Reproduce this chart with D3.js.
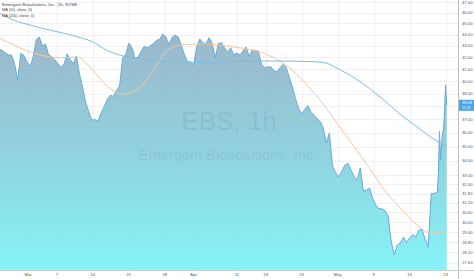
<!DOCTYPE html>
<html>
<head>
<meta charset="utf-8">
<script src="https://cdn.jsdelivr.net/npm/d3@7"></script>
<style>
html, body { margin: 0; padding: 0; background: #fff; overflow: hidden; }
svg { display: block; font-family: "Liberation Sans", Arial, sans-serif; }
</style>
</head>
<body>
<svg id="chart"></svg>
<script>
// EBS hourly closes, Feb 23 - May 23 2022, one value every 3 bars
const closes = [
    42.69, 42.60, 42.37, 42.20, 42.20, 41.42, 40.10, 42.33, 42.16, 41.63,
    41.20, 42.03, 43.53, 43.77, 42.98, 43.16, 42.20, 42.05, 41.80, 41.48,
    41.13, 41.42, 42.29, 41.80, 41.48, 42.11, 40.60, 39.53, 38.33, 37.59,
    36.95, 36.98, 36.88, 37.48, 37.97, 38.53, 38.87, 38.77, 39.24, 39.61,
    41.93, 42.24, 43.24, 42.85, 41.93, 42.00, 42.52, 42.95, 42.83, 43.01,
    43.21, 43.48, 43.57, 44.05, 43.77, 43.12, 43.73, 43.95, 43.77, 43.09,
    42.23, 41.62, 41.60, 41.34, 42.89, 43.60, 43.27, 43.16, 43.71, 43.24,
    41.94, 43.20, 43.27, 42.83, 42.41, 42.82, 42.20, 42.37, 42.20, 42.54,
    42.89, 42.07, 42.61, 42.60, 42.50, 41.42, 41.14, 41.17, 41.20, 40.89,
    40.76, 41.13, 41.40, 41.13, 40.32, 39.55, 38.61, 37.87, 37.41, 37.76,
    38.06, 37.58, 37.33, 37.06, 36.85, 36.35, 35.25, 35.98, 33.64, 33.21,
    32.89, 33.27, 33.69, 33.83, 33.36, 32.93, 32.71, 33.50, 31.97, 32.03,
    32.16, 31.49, 31.06, 30.83, 30.83, 30.72, 30.38, 28.87, 28.06, 28.64,
    28.75, 29.10, 28.79, 29.05, 29.25, 29.10, 29.52, 29.55, 28.99, 28.51,
    31.81, 31.81, 31.91
];
const closeStep = 3;

// hourly closes from May 20 open
const tailStart = "2022-05-20";
const tailCloses = [33.3, 36.1, 34.1, 35.2, 36.0, 36.3, 37.9, 39.7, 38.08];

// moving averages, one value every 15 bars
const maStep = 15;
const ma50 = [
    43.69, 43.03, 42.46, 42.11, 41.96, 42.03, 41.00, 39.61, 38.97, 39.37,
    40.92, 42.72, 43.10, 43.16, 43.11, 42.93, 42.73, 42.44, 41.81, 40.90,
    39.61, 38.18, 36.54, 35.01, 33.50, 31.97, 30.88, 29.88, 29.34, 29.46
];
const ma200 = [
    45.97, 45.27, 44.86, 44.49, 44.17, 43.82, 43.38, 42.59, 42.13, 41.90,
    41.75, 41.68, 41.60, 41.54, 41.57, 41.64, 41.67, 41.68, 41.68, 41.67,
    41.64, 41.57, 41.00, 40.30, 39.41, 38.41, 37.37, 36.51, 35.66, 34.98
];

const priceTicks = [27.6, 28.2, 28.8, 29.4, 30.0, 30.6, 31.2, 31.8, 32.4, 33.0,
    34, 35, 36, 37, 38, 39, 40, 41, 42, 43, 44, 45, 46, 47];
const tickDates = ["2022-03-01", "2022-03-07", "2022-03-14", "2022-03-21", "2022-03-28",
    "2022-04-01", "2022-04-11", "2022-04-18", "2022-04-25", "2022-05-02",
    "2022-05-09", "2022-05-16", "2022-05-23"];
const tickLabels = ["Mar", "7", "14", "21", "28", "Apr", "11", "18", "25", "May", "9", "16", "23"];
const holidays = ["2022-04-15"];
const lastPrice = 38.08;

const legendLines = ["Emergent Biosolutions, Inc., 1h, NYSE", "MA (50, close, 0)", "MA (200, close, 0)"];

function tradingDays(start, end) {
    const out = [];
    const d = new Date(start + "T12:00:00Z");
    const stop = new Date(end + "T12:00:00Z");
    while (d <= stop) {
        const s = d.toISOString().slice(0, 10);
        const wd = d.getUTCDay();
        if (wd !== 0 && wd !== 6 && !holidays.includes(s)) out.push(s);
        d.setUTCDate(d.getUTCDate() + 1);
    }
    return out;
}

const days = tradingDays("2022-02-23", "2022-05-23");
const barsPerDay = 7;
const barOf = s => days.indexOf(s) * barsPerDay;

const width = 474, height = 279;
const plotW = 458, plotH = 270;

const x = d3.scaleLinear().domain([0, 446]).range([-0.8, 458]);
const y = d3.scaleLog().domain([27.21, 47.21]).range([plotH, 0]);

const points = closes.map((v, i) => ({ bar: i * closeStep, v }))
    .concat(tailCloses.map((v, k) => ({ bar: barOf(tailStart) + k, v })));

const svg = d3.select("#chart").attr("width", width).attr("height", height);

const defs = svg.append("defs");
defs.append("clipPath").attr("id", "plot-clip")
    .append("rect").attr("width", plotW).attr("height", plotH);

const grad = defs.append("linearGradient")
    .attr("id", "area-grad")
    .attr("gradientUnits", "userSpaceOnUse")
    .attr("x1", 0).attr("x2", 0).attr("y1", 30).attr("y2", plotH);
grad.append("stop").attr("offset", "0%").attr("stop-color", "#97b3c7");
grad.append("stop").attr("offset", "50%").attr("stop-color", "#8bcfdc");
grad.append("stop").attr("offset", "100%").attr("stop-color", "#7ff3f7");

// grid
const grid = svg.append("g");
grid.selectAll("line.h")
    .data(priceTicks)
    .enter().append("line")
    .attr("x1", 0).attr("x2", plotW)
    .attr("y1", d => Math.round(y(d)) + 0.5).attr("y2", d => Math.round(y(d)) + 0.5)
    .attr("stroke", "#eff1f4");
grid.selectAll("line.v")
    .data(tickDates)
    .enter().append("line")
    .attr("x1", d => Math.round(x(barOf(d))) + 0.5).attr("x2", d => Math.round(x(barOf(d))) + 0.5)
    .attr("y1", 0).attr("y2", plotH)
    .attr("stroke", "#eff1f4");

const plot = svg.append("g").attr("clip-path", "url(#plot-clip)");

plot.append("path")
    .datum(points)
    .attr("d", d3.area().x(d => x(d.bar)).y0(plotH).y1(d => y(d.v)))
    .attr("fill", "url(#area-grad)")
    .attr("fill-opacity", 0.95);

// watermark, over the area like the original
const wm = svg.append("g").attr("fill", "#6c7d8c").attr("fill-opacity", 0.16)
    .attr("text-anchor", "middle");
wm.append("text").attr("x", 229).attr("y", 130)
    .style("font-size", "26px").text("EBS, 1h");
wm.append("text").attr("x", 228).attr("y", 160)
    .style("font-size", "14.7px").text("Emergent Biosolutions, Inc.");

plot.append("path")
    .datum(points)
    .attr("d", d3.line().x(d => x(d.bar)).y(d => y(d.v)))
    .attr("fill", "none")
    .attr("stroke", "#64acdb")
    .attr("stroke-width", 1);

const maLine = d3.line()
    .x((d, i) => x(i * maStep))
    .y(d => y(d))
    .curve(d3.curveMonotoneX);

plot.append("path").datum(ma50)
    .attr("d", maLine)
    .attr("fill", "none").attr("stroke", "#f4c6a0").attr("stroke-width", 1);

plot.append("path").datum(ma200)
    .attr("d", maLine)
    .attr("fill", "none").attr("stroke", "#7dbde0").attr("stroke-width", 1);

// axes borders
svg.append("line").attr("x1", plotW + 0.5).attr("x2", plotW + 0.5)
    .attr("y1", 0).attr("y2", height).attr("stroke", "#b9bec4");
svg.append("line").attr("x1", 0).attr("x2", width)
    .attr("y1", plotH + 0.5).attr("y2", plotH + 0.5).attr("stroke", "#c9cdd2");

// price axis labels (the one under the last price box is hidden)
const ly = y(lastPrice);
svg.append("g").selectAll("text")
    .data(priceTicks.filter(d => Math.abs(y(d) - ly) > 7))
    .enter().append("text")
    .attr("x", plotW + 4)
    .attr("y", d => y(d))
    .attr("dy", "0.35em")
    .attr("fill", "#555")
    .style("font-size", "4.2px")
    .text(d => d.toFixed(2));

// time axis labels
svg.append("g").selectAll("text")
    .data(tickDates)
    .enter().append("text")
    .attr("x", d => x(barOf(d)))
    .attr("y", plotH + 5)
    .attr("dy", "0.35em")
    .attr("text-anchor", "middle")
    .attr("fill", "#555")
    .style("font-size", "4.2px")
    .text((d, i) => tickLabels[i]);

// last price marker
svg.append("rect")
    .attr("x", plotW + 1).attr("y", ly - 5.5)
    .attr("width", width - plotW - 1).attr("height", 11)
    .attr("fill", "#4da3e3");
svg.append("text")
    .attr("x", plotW + 4).attr("y", ly - 2.4)
    .attr("dy", "0.35em")
    .attr("fill", "#fff")
    .style("font-size", "4px")
    .text(lastPrice.toFixed(2));
svg.append("text")
    .attr("x", plotW + 4).attr("y", ly + 2.6)
    .attr("dy", "0.35em")
    .attr("fill", "#fff")
    .style("font-size", "3.4px")
    .text("21:23");

// legend
svg.append("g").selectAll("text")
    .data(legendLines)
    .enter().append("text")
    .attr("x", 2)
    .attr("y", (d, i) => 4.5 + i * 5.5)
    .attr("dy", "0.35em")
    .attr("fill", "#3a3f45")
    .style("font-size", (d, i) => i === 0 ? "4.4px" : "4px")
    .text(d => d);
</script>
</body>
</html>
